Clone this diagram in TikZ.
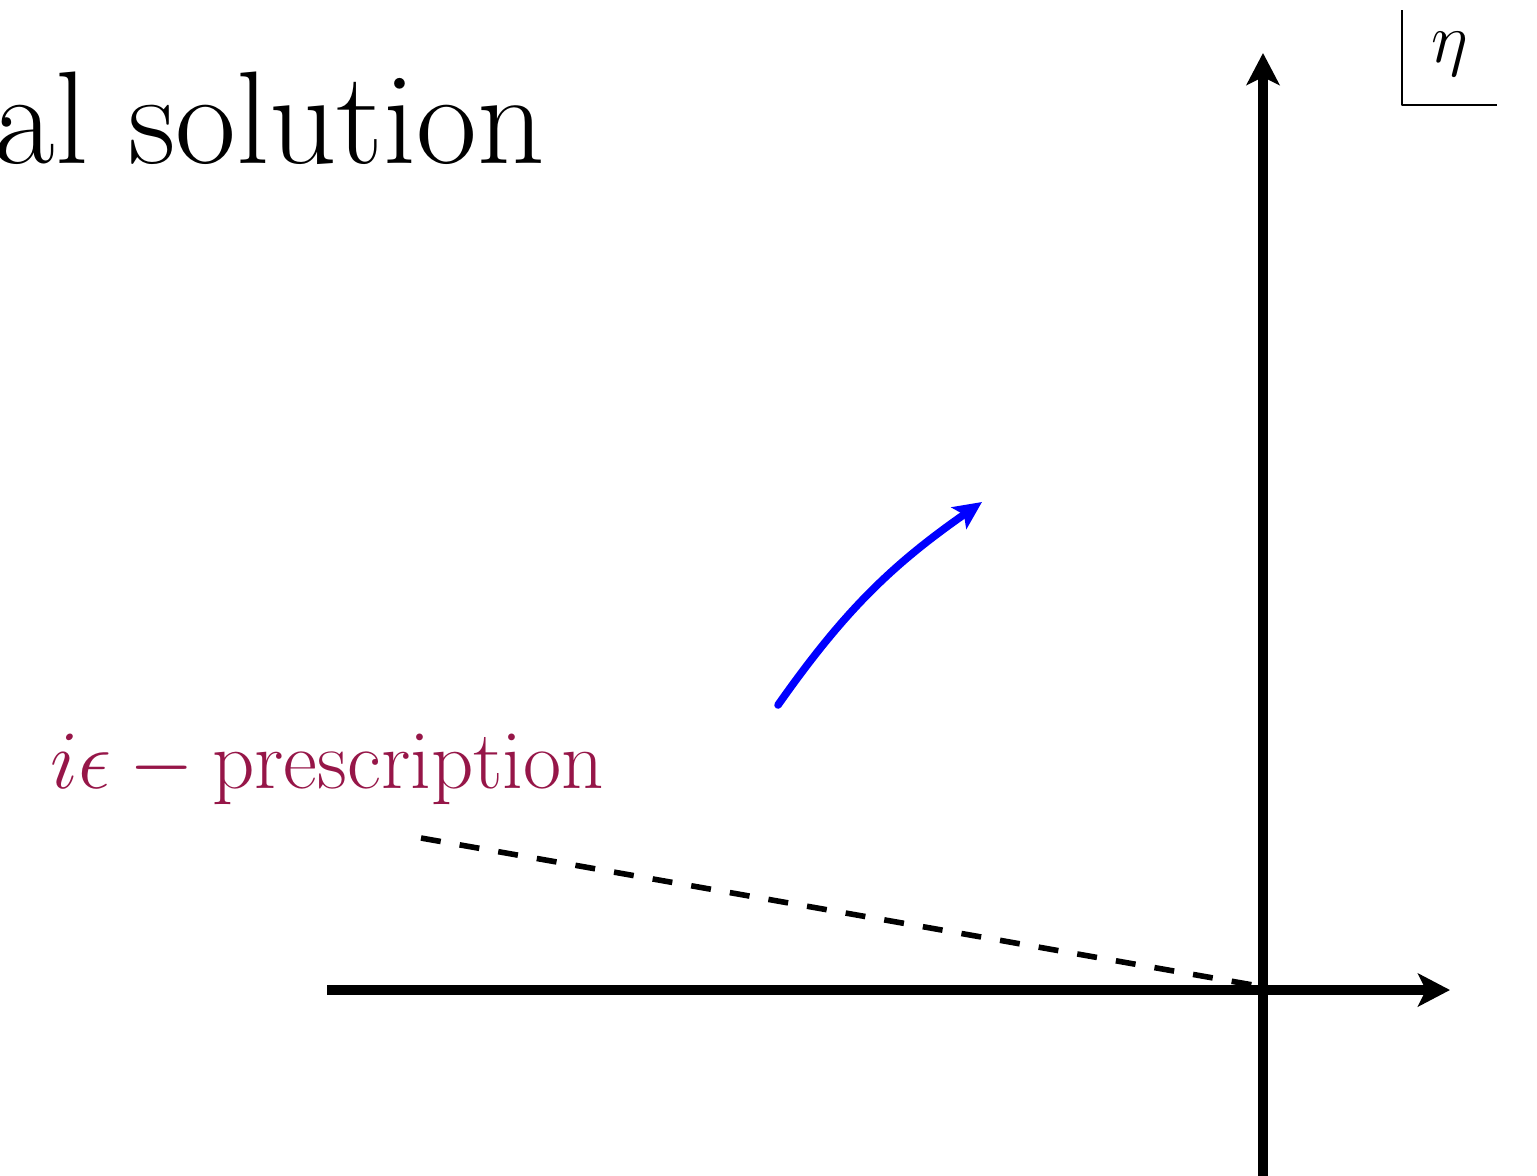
\documentclass[tikz,border=0pt]{standalone}
\usetikzlibrary{arrows.meta}
\definecolor{prescred}{RGB}{150,22,72}
\begin{document}
\begin{tikzpicture}[x=0.5pt, y=-0.5pt, line join=round]
% units are the pixels of the slide, y runs downwards
\providecommand{\axisLineWidth}{5pt}
\providecommand{\flowLineWidth}{3.8pt}
\providecommand{\cutLineWidth}{2.8pt}
\providecommand{\bigmath}[2]{\scalebox{#1}{\fontsize{20.74}{24}\selectfont #2}}
\tikzset{
  axis/.style={line width=\axisLineWidth, -{Stealth[length=16pt, width=16.5pt, inset=4pt]}},
  flow/.style={blue, line width=\flowLineWidth, line cap=round, -{Stealth[length=14pt, width=13pt, inset=3pt]}},
  cutline/.style={line width=\cutLineWidth, dash pattern=on 10pt off 9.6pt},
  planeframe/.style={line width=1pt},
}
\useasboundingbox (0,0) rectangle (1537,1175);
% Points of the plane
\coordinate (xfrom) at (327,990);
\coordinate (xto) at (1450,990);
\coordinate (yfrom) at (1263,1200);
\coordinate (yto) at (1263,53);
\coordinate (cutfrom) at (421,838);
\coordinate (cutto) at (1253,985);
\coordinate (rotfrom) at (778,705);
\coordinate (rotto) at (982,502);
% Title, cut at the left edge
\node[anchor=base east, inner sep=0, font=\fontsize{66}{72}\selectfont] (title) at (545,163) {al solution};
% Axes
\draw[axis] (xfrom) -- (xto);
\draw[axis] (yfrom) -- (yto);
% Plane label
\draw[planeframe] (1402,10) -- (1402,105) -- (1497,105);
\node[inner sep=0] (planelabel) at (1450,54) {\bigmath{1.7}{$\eta$}};
% Rotated contour
\draw[cutline] (cutfrom) -- (cutto);
\node[anchor=base west, inner sep=0, text=prescred] (presc) at (50,788) {\bigmath{2.0}{$i\epsilon - \mathrm{prescription}$}};
\draw[flow] (rotfrom) to[bend left=10] (rotto);
\end{tikzpicture}
\end{document}
